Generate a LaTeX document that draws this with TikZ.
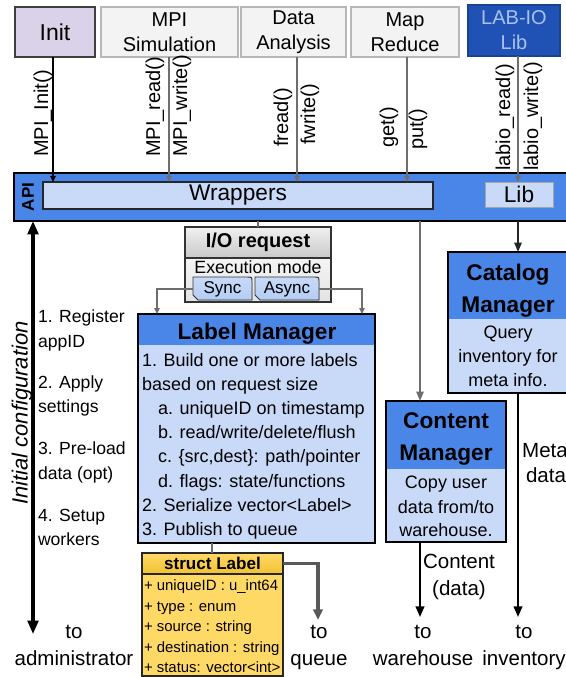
\documentclass[tikz,border=0pt]{standalone}
\usepackage{fontspec}
\setmainfont{Liberation Sans}
\usetikzlibrary{arrows.meta,fit}

\definecolor{hdrblue}{HTML}{4A86E8}
\definecolor{paleblue}{HTML}{C9DAF8}
\definecolor{btnblue}{HTML}{B4CCF4}
\definecolor{gold}{HTML}{FFD966}
\definecolor{goldhdr}{HTML}{F1C232}
\definecolor{lavender}{HTML}{D9D2E9}
\definecolor{appgray}{HTML}{F3F3F3}
\definecolor{appedge}{HTML}{B7B7B7}
\definecolor{navy}{HTML}{1F52B4}
\definecolor{navytext}{HTML}{A9C1EE}
\definecolor{wire}{HTML}{6E6E6E}

\begin{document}
\begin{tikzpicture}[x=0.75pt,y=-0.75pt,
  every node/.style={inner sep=0pt, outer sep=0pt},
  fitbox/.style={inner sep=0pt},
  appbox/.style={fitbox, draw=appedge, fill=appgray, line width=0.9pt},
  apptxt/.style={align=center, font=\fontsize{15}{18.75}\selectfont},
  call/.style={rotate=90, anchor=west, font=\fontsize{15}{18}\selectfont},
  small tip/.style={-{Triangle[length=4.5pt,width=4pt]}},
  wireline/.style={draw=wire, line width=1pt},
  boldline/.style={draw=black, line width=1.5pt, -{Triangle[length=8pt,width=6.5pt]}},
  txt/.style={font=\fontsize{13.5}{18}\selectfont, anchor=base west},
  listtxt/.style={font=\fontsize{13.2}{18.75}\selectfont, anchor=base west},
  mgrtitle/.style={font=\bfseries\fontsize{17}{24}\selectfont, anchor=base},
  mgrbody/.style={font=\fontsize{13.5}{18}\selectfont, anchor=base},
  rowtxt/.style={font=\fontsize{11.2}{15}\selectfont, anchor=base west},
  endtxt/.style={font=\fontsize{15.4}{20}\selectfont, anchor=base},
]
\useasboundingbox (0,0) rectangle (565,677);

% ---------- applications on top ----------
\node[appbox, draw=black!75, fill=lavender, fit={(15,7) (95,57)}] (init) {};
\node[font=\fontsize{17.25}{20}\selectfont] (inittxt) at (init.center) {Init};
\node[appbox, fit={(101,7) (238,57)}] (mpi) {};
\node[apptxt] (mpitxt) at (mpi.center) {MPI\\Simulation};
\node[appbox, fit={(241,7) (346,57)}] (da) {};
\node[apptxt] (datxt) at (da.center) {Data\\Analysis};
\node[appbox, fit={(351,7) (459,57)}] (mr) {};
\node[apptxt] (mrtxt) at (mr.center) {Map\\Reduce};
\node[appbox, draw=navy!80!black, fill=navy, fit={(468,5) (560,56)}] (lab) {};
\node[apptxt, text=navytext] (labtxt) at (lab.center) {LAB-IO\\Lib};

% ---------- API bar ----------
\node[fitbox, draw=black, line width=1.5pt, fill=hdrblue, fit={(14,173) (590,221)}] (api) {};
\node[fitbox, draw=black!85, line width=0.9pt, fill=paleblue, fit={(43,182) (433,209)}] (wrap) {};
\node[font=\fontsize{17}{20}\selectfont] (wraptxt) at (wrap.center) {Wrappers};
\node[fitbox, draw=black!35, line width=0.6pt, fill=paleblue, fit={(485,182) (553,207)}] (lib) {};
\node[font=\fontsize{17}{20}\selectfont] (libtxt) at (lib.center) {Lib};
\node[rotate=90, font=\bfseries\fontsize{12.75}{15}\selectfont] (apilabel) at (28,197) {API};

% ---------- call names ----------
\node[call] (cInit)  at (43,157)  {MPI\_Init()};
\node[call] (cRead)  at (155,157) {MPI\_read()};
\node[call] (cWrite) at (182,157) {MPI\_write()};
\node[call] (cFread) at (283,147) {fread()};
\node[call] (cFwrite) at (310,145) {fwrite()};
\node[call] (cGet)   at (389,148) {get()};
\node[call] (cPut)   at (418,150) {put()};
\node[call] (cLread) at (505,171) {labio\_read()};
\node[call] (cLwrite) at (533,171) {labio\_write()};

% ---------- calls into the API ----------
\coordinate (xinit) at (53,0);
\coordinate (xmpi) at (169,0);
\coordinate (xda) at (297,0);
\coordinate (xmr) at (407,0);
\coordinate (xlab) at (518,0);
\draw[line width=1.1pt, small tip] (init.south -| xinit) -- (wrap.north -| xinit);
\draw[wireline, small tip] (mpi.south -| xmpi) -- (wrap.north -| xmpi);
\draw[wireline, small tip] (da.south -| xda) -- (wrap.north -| xda);
\draw[wireline, small tip] (mr.south -| xmr) -- (wrap.north -| xmr);
\draw[wireline, small tip] (lab.south -| xlab) -- (lib.north -| xlab);

% ---------- initial configuration ----------
\coordinate (admin) at (33,634);
\draw[line width=2.3pt, {Triangle[length=10pt,width=8pt]}-{Triangle[length=10pt,width=8pt]}]
  (api.south -| admin) -- (admin);
\node[rotate=90, font=\itshape\fontsize{16.5}{20}\selectfont] (initcfg) at (22,413) {Initial configuration};
\node[listtxt] (s1a) at (38,322) {1. Register};
\node[listtxt] (s1b) at (38,347) {appID};
\node[listtxt] (s2a) at (38,388) {2. Apply};
\node[listtxt] (s2b) at (38,412) {settings};
\node[listtxt] (s3a) at (38,454) {3. Pre-load};
\node[listtxt] (s3b) at (38,479) {data (opt)};
\node[listtxt] (s4a) at (38,521) {4. Setup};
\node[listtxt] (s4b) at (38,545) {workers};

% ---------- I/O request ----------
\node[fitbox, draw=black!80, line width=0.9pt, top color=gray!12, bottom color=gray!42,
      fit={(185,227) (331,258)}] (io) {};
\node[font=\bfseries\fontsize{15}{18}\selectfont] (iotxt) at (io.center) {I/O request};
\node[fitbox, draw=black!80, line width=0.9pt, top color=gray!8, bottom color=gray!22,
      fit={(185,258) (331,302)}] (mode) {};
\node[anchor=base, font=\fontsize{13.3}{16}\selectfont] (modetxt) at (258,273) {Execution mode};
\filldraw[draw=black!80, line width=0.7pt, top color=paleblue, bottom color=btnblue]
  (193,277) -- (247,277) .. controls (252,277) .. (252,282) -- (252,300) -- (198,300) -- (193,295) -- cycle;
\filldraw[draw=black!80, line width=0.7pt, top color=paleblue, bottom color=btnblue]
  (255,277) -- (314,277) .. controls (319,277) .. (319,282) -- (319,300) -- (260,300) -- (255,295) -- cycle;
\node[fitbox, fit={(193,278) (252,300)}] (sync) {};
\node[font=\fontsize{12.8}{15}\selectfont] (synctxt) at (sync.center) {Sync};
\node[fitbox, fit={(255,278) (319,300)}] (async) {};
\node[font=\fontsize{12.8}{15}\selectfont] (asynctxt) at (async.center) {Async};
\draw[wireline] (io.north) -- (io.north |- api.south);

% ---------- Label Manager ----------
\node[fitbox, fill=paleblue, fit={(138,314) (375,543)}] (lm) {};
\fill[hdrblue] (138,314) rectangle (375,345);
\draw[line width=1.5pt] (lm.north west) rectangle (lm.south east);
\node[mgrtitle] (lmtitle) at (257,339) {Label Manager};
\node[txt] (lm1) at (142,366) {1. Build one or more labels};
\node[txt] (lm2) at (142,390) {based on request size};
\node[txt] (lm3) at (158,414) {a. uniqueID on timestamp};
\node[txt] (lm4) at (158,438) {b. read/write/delete/flush};
\node[txt] (lm5) at (158,462) {c. \{src,dest\}: path/pointer};
\node[txt] (lm6) at (158,487) {d. flags: state/functions};
\node[txt] (lm7) at (142,511) {2. Serialize vector<Label>};
\node[txt] (lm8) at (142,535) {3. Publish to queue};

\coordinate (xlb) at (157,0);
\coordinate (xrb) at (362,0);
\draw[wireline, small tip] (sync.west) -- (sync.west -| xlb) -- (lm.north -| xlb);
\draw[wireline, small tip] (async.east) -- (async.east -| xrb) -- (lm.north -| xrb);

% ---------- struct Label ----------
\node[fitbox, fill=gold, fit={(142,553) (283,676)}] (sl) {};
\node[fitbox, top color=gold, bottom color=goldhdr, fit={(142,553) (283,574)}] (slhdr) {};
\node[font=\bfseries\fontsize{12.8}{15}\selectfont] (slhdrtxt) at (slhdr.center) {struct Label};
\draw[line width=1.1pt, draw=black!85] (sl.north west) rectangle (sl.south east);
\draw[line width=1.1pt, draw=black!85] (slhdr.south west) -- (slhdr.south east);
\node[rowtxt] (r1) at (144,590) {+ uniqueID : u\_int64};
\node[rowtxt] (r2) at (144,611) {+ type : enum};
\node[rowtxt] (r3) at (144,631) {+ source : string};
\node[rowtxt] (r4) at (144,652) {+ destination : string};
\node[rowtxt] (r5) at (144,672) {+ status: vector<int>};
\coordinate (xsl) at (212,0);
\draw[wireline] (lm.south -| xsl) -- (sl.north -| xsl);

% ---------- Catalog Manager ----------
\node[fitbox, fill=paleblue, fit={(448,252) (590,393)}] (cat) {};
\fill[hdrblue] (448,252) rectangle (590,319);
\draw[line width=1.5pt] (cat.north west) rectangle (cat.south east);
\node[mgrtitle] (catt1) at (508,280) {Catalog};
\node[mgrtitle] (catt2) at (508,312) {Manager};
\node[mgrbody] (catb1) at (508,338) {Query};
\node[mgrbody] (catb2) at (508,362) {inventory for};
\node[mgrbody] (catb3) at (508,386) {meta info.};

% ---------- Content Manager ----------
\node[fitbox, fill=paleblue, fit={(386,401) (506,542)}] (cm) {};
\fill[hdrblue] (386,401) rectangle (506,469);
\draw[line width=1.5pt] (cm.north west) rectangle (cm.south east);
\node[mgrtitle] (cmt1) at (446,428) {Content};
\node[mgrtitle] (cmt2) at (446,460) {Manager};
\node[mgrbody] (cmb1) at (446,488) {Copy user};
\node[mgrbody] (cmb2) at (446,513) {data from/to};
\node[mgrbody] (cmb3) at (446,536) {warehouse.};

% ---------- flows out of the API ----------
\coordinate (xcm) at (420,0);
\draw[wireline, line width=1.1pt, -{Triangle[length=7pt,width=5.5pt]}] (api.south -| xcm) -- (cm.north -| xcm);
\draw[draw=black!85, line width=1.3pt, -{Triangle[length=7pt,width=5.5pt]}] (api.south -| xlab) -- (cat.north -| xlab);

% ---------- destinations ----------
\coordinate (qend) at (318,620);
\coordinate (wend) at (420,617);
\coordinate (iend) at (518,617);
\draw[draw=black!65, line width=2.6pt, -{Triangle[length=8pt,width=7pt]}]
  (slhdr.east) -- (slhdr.east -| qend) -- (qend);
\draw[boldline] (cm.south -| wend) -- (wend);
\draw[boldline] (cat.south -| iend) -- (iend);

\node[endtxt] (cdata1) at (459,568) {Content};
\node[endtxt] (cdata2) at (459,595) {(data)};
\node[endtxt] (meta1) at (545,457) {Meta};
\node[endtxt] (meta2) at (546,482) {data};

\node[endtxt] (to1) at (74,638) {to};
\node[endtxt] (to1b) at (74,665) {administrator};
\node[endtxt] (to2) at (319,638) {to};
\node[endtxt] (to2b) at (319,665) {queue};
\node[endtxt] (to3) at (423,638) {to};
\node[endtxt] (to3b) at (423,665) {warehouse};
\node[endtxt] (to4) at (524,638) {to};
\node[endtxt] (to4b) at (524,665) {inventory};
\end{tikzpicture}
\end{document}
